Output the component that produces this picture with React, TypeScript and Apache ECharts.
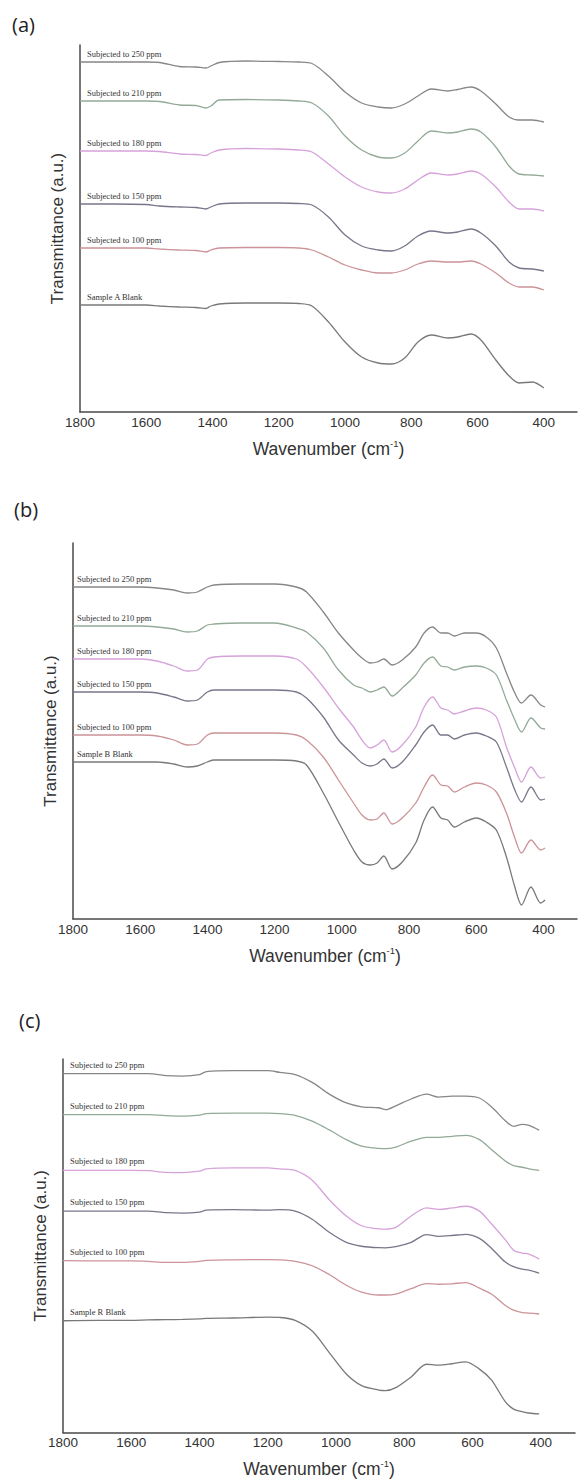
import React, { useEffect, useRef } from "react";
import * as echarts from "echarts";

// ---------- data (wavenumber in cm-1, transmittance in arbitrary units) ----------
const W_A = [1800, 1700, 1600, 1560, 1500, 1450, 1420, 1405, 1380, 1300, 1200, 1140, 1100, 1050, 1000, 950, 900, 860, 820, 780, 740, 690, 660, 620, 590, 545, 505, 475, 435, 400];
const A_250 = [350, 350, 350, 349.5, 345.5, 345, 344, 346, 349.5, 351, 350.5, 350, 348.5, 336, 320, 309, 305, 304, 308, 316, 323, 321, 322.5, 325, 321, 308, 295, 292, 292, 290];
const A_210 = [311, 311, 311, 310.5, 307, 306.5, 304, 306, 312, 312.5, 312, 311, 309, 296, 276, 262, 255, 254, 259, 271, 281, 279, 280, 283, 280, 265, 246, 238, 237, 236];
const A_180 = [261, 261, 261, 260.5, 258, 257.5, 256.5, 259, 262, 263.5, 263, 262, 260, 248, 235, 225, 220, 219, 223, 232, 239, 237, 238, 241, 238, 225, 210, 203, 203, 201];
const A_150 = [208, 208, 207.5, 206, 205, 204.5, 203, 205, 208, 209, 209, 208.5, 207, 195, 177, 166, 162, 161, 166, 176, 181, 179, 180, 183, 179, 166, 150, 144, 143, 141];
const A_100 = [164, 164, 164, 163, 162, 161.5, 160, 162, 164, 164.5, 164.5, 164, 162, 155, 147, 142, 139, 139, 142, 148, 151, 150, 150, 151, 148, 139, 129, 125, 125, 122];
const A_BLANK = [107, 107, 107, 106, 105, 104.5, 103.5, 106, 108, 109, 109, 108.5, 106, 90, 70, 55, 49, 48, 54, 70, 77, 74, 75, 78, 72, 52, 36, 29, 30, 24];

const W_B = [1800, 1700, 1600, 1550, 1500, 1460, 1430, 1400, 1380, 1300, 1200, 1135, 1105, 1055, 1010, 965, 940, 915, 895, 875, 850, 820, 780, 755, 730, 705, 685, 665, 635, 600, 570, 540, 510, 485, 465, 437, 408, 395];
const B_250 = [332, 332, 332, 331, 329, 326, 327, 332, 334, 335, 335, 332, 327, 307, 286, 269, 261, 256, 257, 260, 254, 259, 272, 286, 292, 286, 286, 283, 286, 286, 282, 271, 246, 226, 216, 224, 214, 212];
const B_210 = [293, 293, 293, 292, 290, 287, 288, 294, 295, 296, 296, 291, 287, 271, 249, 234, 231, 227, 229, 232, 223, 231, 244, 256, 262, 253, 252, 249, 252, 253, 251, 244, 219, 199, 187, 201, 191, 190];
const B_180 = [260, 260, 260, 258, 253, 248, 249, 260, 262, 263, 263, 260, 252, 232, 211, 192, 179, 171, 174, 179, 167, 174, 192, 212, 222, 211, 209, 205, 208, 211, 209, 202, 172, 151, 137, 152, 141, 142];
const B_150 = [227, 227, 227, 226, 222, 218, 219, 227, 229, 229, 229, 227, 221, 202, 179, 164, 156, 153, 155, 160, 151, 157, 174, 187, 194, 184, 184, 180, 184, 186, 183, 177, 152, 129, 117, 132, 119, 120];
const B_100 = [184, 184, 184, 183, 179, 174, 175, 184, 186, 186, 186, 184, 179, 162, 139, 116, 104, 99, 100, 106, 95, 101, 116, 132, 144, 134, 133, 127, 132, 136, 134, 127, 106, 81, 66, 79, 69, 71];
const B_BLANK = [157, 157, 157, 157, 155, 152, 153, 157, 159, 159, 159, 158, 154, 126, 97, 69, 57, 54, 56, 63, 50, 57, 76, 99, 112, 101, 99, 92, 97, 101, 97, 89, 62, 32, 14, 32, 16, 19];

const W_C = [1800, 1700, 1600, 1550, 1500, 1450, 1400, 1380, 1300, 1200, 1165, 1120, 1070, 1020, 970, 925, 875, 855, 825, 780, 735, 700, 660, 620, 580, 545, 505, 480, 455, 435, 405];
const C_250 = [368, 368, 368, 368, 366, 365.5, 367, 370, 371, 371, 369.3, 367, 359, 347, 338, 334, 333, 331, 335, 342, 347, 344, 345, 345, 343, 334, 320, 314, 316, 315, 310];
const C_210 = [326, 326, 326, 326, 325, 324.5, 325.5, 327, 327.5, 327.5, 327, 325.3, 319.3, 310.3, 300.3, 293.7, 291.3, 291, 292.7, 298.7, 302.7, 302.7, 303.7, 304.7, 300.3, 290.3, 278.7, 273.7, 272, 270.3, 268.7];
const C_180 = [268.7, 268.7, 268.7, 268.5, 266.7, 266.5, 268, 270.3, 271.3, 271.3, 270.3, 268.7, 258.7, 238.7, 222, 212, 208.7, 208.5, 210.3, 222, 230.3, 228.7, 230.3, 232, 227, 214, 198, 187, 184, 183, 178];
const C_150 = [227, 227, 227, 227, 225.5, 225, 226, 228, 228.5, 228, 228.5, 227, 218.7, 205.3, 195, 191, 189.5, 189.4, 190.5, 195, 203, 201.2, 202, 203.2, 199, 189, 175, 170, 167.5, 166.5, 163.5];
const C_100 = [176.2, 176, 176, 175.5, 174.5, 174.5, 175.5, 176.5, 177, 177.3, 177, 175.5, 171, 162, 151, 144, 141, 141, 142, 147.5, 152.7, 152, 152.5, 153.7, 148, 142, 130.5, 125.5, 123, 122.5, 121.5];
const C_BLANK = [114.6, 115, 115, 115.5, 115.7, 116, 116.5, 117, 117.4, 118.4, 118, 115, 104, 82, 60, 48, 43.5, 43, 46, 57, 70, 69, 70.5, 72.4, 65, 54, 32, 24, 21.5, 20, 19];

const SERIES_NAMES = ["Subjected to 250 ppm", "Subjected to 210 ppm", "Subjected to 180 ppm", "Subjected to 150 ppm", "Subjected to 100 ppm"];
const BLANK_NAMES = ["Sample A Blank", "Sample B Blank", "Sample R Blank"];
const PANEL_TAGS = ["(a)", "(b)", "(c)"];
const X_TICKS = [1800, 1600, 1400, 1200, 1000, 800, 600, 400];

// ---------- layout / style ----------
const SANS = "'Liberation Sans', Arial, sans-serif";
const SERIF = "'Liberation Serif', 'Times New Roman', serif";
const COLORS = ["#878787", "#93aa97", "#d6a2da", "#77778a", "#cc9398", "#79797d"];

const PANELS = [
  { W: W_A, ys: [A_250, A_210, A_180, A_150, A_100, A_BLANK], grid: { left: 80, top: 45, width: 498, height: 367 }, yMax: 367, lab: [7, -8], tag: [12, 26] },
  { W: W_B, ys: [B_250, B_210, B_180, B_150, B_100, B_BLANK], grid: { left: 73, top: 543, width: 511, height: 376 }, yMax: 376, lab: [4, -8], tag: [14, 511] },
  { W: W_C, ys: [C_250, C_210, C_180, C_150, C_100, C_BLANK], grid: { left: 63, top: 1059, width: 512, height: 383 }, yMax: 383, lab: [7, -9], tag: [19, 1022] },
];

function buildOption() {
  const grid: any[] = [];
  const xAxis: any[] = [];
  const yAxis: any[] = [];
  const series: any[] = [];
  const graphic: any[] = [];

  PANELS.forEach((p, i) => {
    grid.push({ ...p.grid, containLabel: false });
    xAxis.push({
      gridIndex: i,
      type: "value",
      inverse: true,
      min: 300,
      max: 1800,
      interval: 100,
      axisLine: { show: true, onZero: false, lineStyle: { color: "#4a4a4a", width: 1.5 } },
      axisTick: { show: false },
      splitLine: { show: false },
      axisLabel: {
        show: true,
        showMinLabel: true,
        showMaxLabel: true,
        margin: 3,
        fontSize: 13.5,
        color: "#333",
        fontFamily: SANS,
        formatter: (v: number) => (X_TICKS.indexOf(v) >= 0 ? String(v) : ""),
      },
      name: "{t|Wavenumber (cm}{s|-1}{t|)}",
      nameLocation: "middle",
      nameGap: 26,
      nameTextStyle: {
        rich: {
          t: { fontSize: 17.5, color: "#333", fontFamily: SANS, lineHeight: 21 },
          s: { fontSize: 9.5, color: "#333", fontFamily: SANS, verticalAlign: "top", lineHeight: 21 },
        },
      },
    });
    yAxis.push({
      gridIndex: i,
      type: "value",
      min: 0,
      max: p.yMax,
      axisLine: { show: true, onZero: false, lineStyle: { color: "#4a4a4a", width: 1.5 } },
      axisTick: { show: false },
      axisLabel: { show: false },
      splitLine: { show: false },
      name: "Transmittance (a.u.)",
      nameLocation: "middle",
      nameGap: 14,
      nameTextStyle: { fontSize: 17, color: "#333", fontFamily: SANS },
    });
    p.ys.forEach((vals, k) => {
      const name = k < 5 ? SERIES_NAMES[k] : BLANK_NAMES[i];
      series.push({
        type: "line",
        name,
        xAxisIndex: i,
        yAxisIndex: i,
        data: p.W.map((w, j) => [w, vals[j]]),
        showSymbol: false,
        smooth: 0.3,
        silent: true,
        lineStyle: { color: COLORS[k], width: 1.3 },
        markPoint: {
          silent: true,
          symbol: "circle",
          symbolSize: 0,
          data: [
            {
              coord: [p.W[0], vals[0]],
              label: {
                show: true,
                position: "right",
                distance: 0,
                offset: p.lab,
                formatter: name,
                fontSize: 8.5,
                fontFamily: SERIF,
                color: "#333",
              },
            },
          ],
        },
      });
    });
    graphic.push({
      type: "text",
      left: p.tag[0],
      top: p.tag[1] - 12,
      style: { text: PANEL_TAGS[i], fontSize: 20, fontFamily: "'Open Sans', sans-serif", fill: "#222" },
    });
  });

  return { animation: false, backgroundColor: "#fff", grid, xAxis, yAxis, series, graphic };
}

export default function App() {
  const ref = useRef<HTMLDivElement>(null);
  useEffect(() => {
    if (!ref.current) return;
    const chart = echarts.init(ref.current, null, { renderer: "svg" });
    chart.setOption(buildOption() as any);
    return () => chart.dispose();
  }, []);
  return (
    <div
      ref={ref}
      style={{ position: "absolute", left: 0, top: 0, width: 580, height: 1479, background: "#fff" }}
    />
  );
}
